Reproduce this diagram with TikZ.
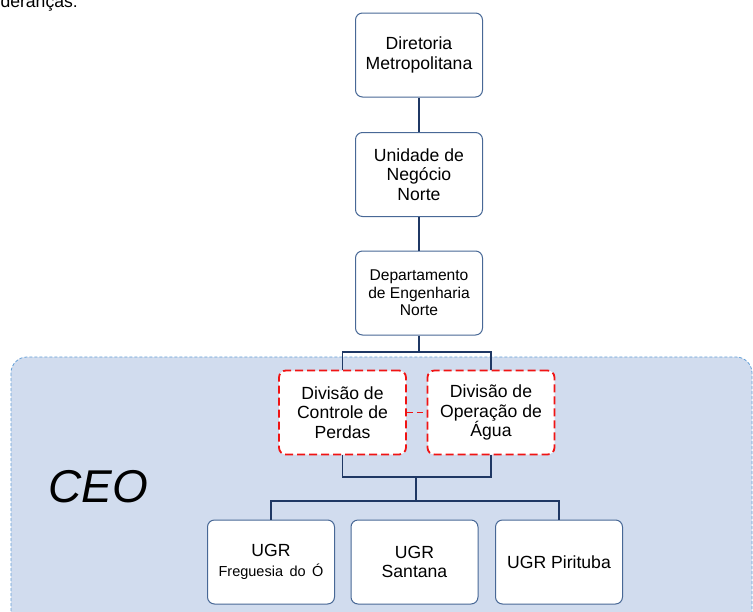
\documentclass[tikz,border=0pt]{standalone}
\usepackage{fontspec}
\setmainfont{Liberation Sans}
\usepackage{xcolor}
\usetikzlibrary{positioning}

\definecolor{boxline}{RGB}{72,104,150}
\definecolor{linkline}{RGB}{31,56,100}
\definecolor{ceofill}{RGB}{209,220,238}
\definecolor{ceoline}{RGB}{100,160,215}
\definecolor{lossred}{RGB}{240,20,20}

\begin{document}
\begin{tikzpicture}[x=1pt, y=-1pt,
    every node/.style={align=center, font=\fontsize{17.6}{19.5}\selectfont},
    unitbox/.style={draw=boxline, line width=1pt, fill=white, rounded corners=7pt,
        minimum width=127pt, minimum height=84pt, inner sep=2pt},
    divbox/.style={unitbox, draw=lossred, line width=1.8pt, dash pattern=on 8pt off 4pt},
    link/.style={draw=linkline, line width=1.8pt}]
    \useasboundingbox (0,0) rectangle (753,611);
    \clip (0,0) rectangle (753,611);

    % cut-off text above
    \node[anchor=base east, inner sep=0pt] at (78,7) {lideranças:};

    % CEO area
    \draw[fill=ceofill, draw=ceoline, line width=0.8pt, dash pattern=on 3pt off 2pt,
        rounded corners=16pt] (11,357) rectangle (752,640);
    \node[font=\fontsize{46}{50}\selectfont\itshape] (ceo) at (98,487) {CEO};

    % boxes
    \node[unitbox] (dir) at (419,55) {Diretoria\\Metropolitana};
    \node[unitbox] (un) at (419,174.5) {Unidade de\\Negócio\\Norte};
    \node[unitbox, font=\fontsize{15.6}{17.5}\selectfont] (dep) at (419,293) {Departamento\\de Engenharia\\Norte};
    \node[divbox] (dcp) at (342.5,412.5) {Divisão de\\Controle de\\Perdas};
    \node[divbox] (doa) at (491,412.5) {Divisão de\\Operação de\\Água};
    \node[unitbox] (fo) at (271,562) {UGR\\{\fontsize{14.5}{18}\selectfont Freguesia\, do\, Ó}};
    \node[unitbox] (sa) at (414.5,562) {UGR\\Santana};
    \node[unitbox] (pi) at (559,562) {UGR Pirituba};

    % junctions
    \coordinate (j1) at (419,352);
    \coordinate (j2) at (416,477);
    \coordinate (j3) at (416,501);

    % connectors
    \draw[link] (dir) -- (un);
    \draw[link] (un) -- (dep);
    \draw[link] (dep) -- (j1);
    \draw[link] (dcp.north) |- (j1) -| (doa.north);
    \draw[link] (dcp.south) |- (j2) -| (doa.south);
    \draw[link] (j2) -- (j3);
    \draw[link] (fo.north) |- (j3) -| (pi.north);
    \draw[draw=lossred, line width=1.8pt, dash pattern=on 6pt off 4pt] (dcp) -- (doa);
\end{tikzpicture}
\end{document}
